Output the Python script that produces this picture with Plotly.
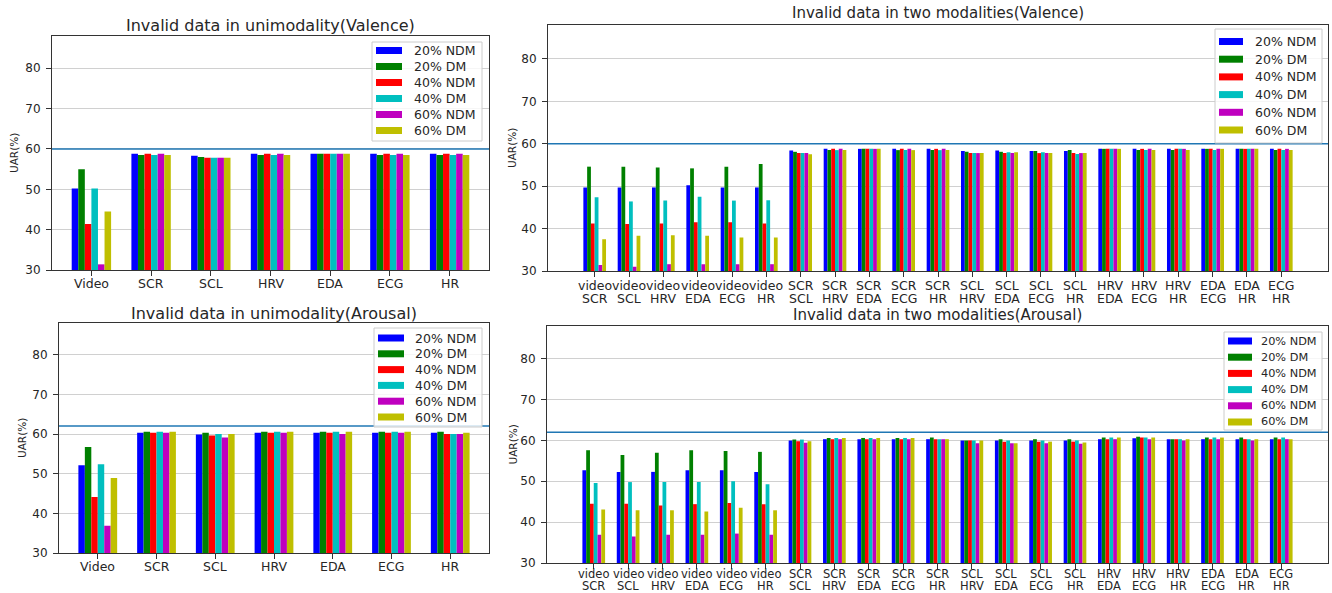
import plotly.graph_objects as go

# ---------------- data ----------------
series_names = ["20% NDM", "20% DM", "40% NDM", "40% DM", "60% NDM", "60% DM"]
series_colors = ["#0000ff", "#008000", "#ff0000", "#00bfbf", "#bf00bf", "#bfbf00"]

uni_cats = ["Video", "SCR", "SCL", "HRV", "EDA", "ECG", "HR"]
bi_cats = ["video SCR", "video SCL", "video HRV", "video EDA", "video ECG", "video HR",
           "SCR SCL", "SCR HRV", "SCR EDA", "SCR ECG", "SCR HR",
           "SCL HRV", "SCL EDA", "SCL ECG", "SCL HR",
           "HRV EDA", "HRV ECG", "HRV HR", "EDA ECG", "EDA HR", "ECG HR"]
bi_line1 = ["video", "video", "video", "video", "video", "video",
            "SCR", "SCR", "SCR", "SCR", "SCR", "SCL", "SCL", "SCL", "SCL",
            "HRV", "HRV", "HRV", "EDA", "EDA", "ECG"]
bi_line2 = ["SCR", "SCL", "HRV", "EDA", "ECG", "HR",
            "SCL", "HRV", "EDA", "ECG", "HR", "HRV", "EDA", "ECG", "HR",
            "EDA", "ECG", "HR", "ECG", "HR", "HR"]

# unimodality, Valence
uv_ndm20 = [50.2, 58.8, 58.3, 58.8, 58.8, 58.8, 58.8]
uv_dm20 = [55.0, 58.5, 58.0, 58.5, 58.8, 58.5, 58.5]
uv_ndm40 = [41.4, 58.8, 57.8, 58.8, 58.8, 58.8, 58.8]
uv_dm40 = [50.2, 58.5, 57.8, 58.5, 58.8, 58.5, 58.5]
uv_ndm60 = [31.4, 58.8, 57.8, 58.8, 58.8, 58.8, 58.8]
uv_dm60 = [44.5, 58.5, 57.8, 58.5, 58.8, 58.5, 58.5]

# unimodality, Arousal
ua_ndm20 = [52.1, 60.3, 59.9, 60.3, 60.3, 60.3, 60.3]
ua_dm20 = [56.7, 60.6, 60.3, 60.6, 60.6, 60.6, 60.6]
ua_ndm40 = [44.1, 60.3, 59.6, 60.3, 60.3, 60.3, 60.0]
ua_dm40 = [52.4, 60.6, 60.0, 60.6, 60.6, 60.6, 60.0]
ua_ndm60 = [36.9, 60.3, 59.1, 60.3, 60.0, 60.3, 60.0]
ua_dm60 = [48.9, 60.6, 60.0, 60.6, 60.6, 60.6, 60.3]

# two modalities, Valence
bv_ndm20 = [49.7, 49.7, 49.7, 50.2, 49.7, 49.7, 58.4, 58.8, 58.8, 58.8, 58.8, 58.3, 58.4, 58.3, 58.3, 58.8, 58.8, 58.8, 58.8, 58.8, 58.8]
bv_dm20 = [54.6, 54.6, 54.4, 54.2, 54.6, 55.2, 58.1, 58.5, 58.8, 58.5, 58.5, 58.1, 58.1, 58.3, 58.5, 58.8, 58.5, 58.5, 58.8, 58.8, 58.5]
bv_ndm40 = [41.2, 41.1, 41.2, 41.5, 41.5, 41.2, 57.8, 58.8, 58.8, 58.8, 58.8, 57.8, 57.8, 57.8, 57.8, 58.8, 58.8, 58.8, 58.8, 58.8, 58.8]
bv_dm40 = [47.4, 46.4, 46.6, 47.5, 46.6, 46.7, 57.8, 58.5, 58.8, 58.5, 58.5, 57.8, 58.0, 58.0, 57.6, 58.8, 58.5, 58.8, 58.5, 58.8, 58.5]
bv_ndm60 = [31.4, 31.0, 31.6, 31.6, 31.6, 31.6, 57.8, 58.8, 58.8, 58.8, 58.8, 57.8, 57.8, 57.8, 57.8, 58.8, 58.8, 58.8, 58.8, 58.8, 58.8]
bv_dm60 = [37.5, 38.3, 38.4, 38.3, 37.9, 37.9, 57.5, 58.5, 58.8, 58.5, 58.5, 57.8, 58.0, 57.8, 57.8, 58.8, 58.5, 58.5, 58.8, 58.8, 58.5]

# two modalities, Arousal
ba_ndm20 = [52.7, 52.3, 52.3, 52.7, 52.7, 52.3, 60.0, 60.3, 60.3, 60.3, 60.3, 60.0, 60.0, 60.0, 60.0, 60.3, 60.5, 60.3, 60.3, 60.3, 60.3]
ba_dm20 = [57.6, 56.4, 57.0, 57.6, 57.4, 57.2, 60.2, 60.6, 60.6, 60.6, 60.7, 60.0, 60.3, 60.3, 60.3, 60.7, 60.9, 60.3, 60.7, 60.7, 60.7]
ba_ndm40 = [44.5, 44.5, 44.1, 44.4, 44.7, 44.4, 59.8, 60.3, 60.3, 60.3, 60.3, 60.0, 59.7, 59.7, 59.7, 60.3, 60.7, 60.3, 60.3, 60.3, 60.3]
ba_dm40 = [49.6, 49.8, 49.8, 49.8, 50.0, 49.3, 60.2, 60.6, 60.6, 60.6, 60.3, 60.0, 60.0, 60.0, 60.0, 60.7, 60.7, 60.3, 60.7, 60.3, 60.7]
ba_ndm60 = [36.9, 36.5, 36.9, 36.9, 37.2, 36.9, 59.4, 60.3, 60.3, 60.3, 60.3, 59.3, 59.3, 59.3, 59.2, 60.3, 60.3, 60.0, 60.3, 60.0, 60.3]
ba_dm60 = [43.1, 42.9, 42.9, 42.6, 43.5, 42.9, 59.8, 60.6, 60.6, 60.6, 60.3, 60.0, 59.3, 59.7, 59.5, 60.7, 60.7, 60.3, 60.7, 60.3, 60.3]

valence_ref = 60
arousal_ref = 62
y_ticks = [30, 40, 50, 60, 70, 80]

titles = ["Invalid data in unimodality(Valence)", "Invalid data in two modalities(Valence)",
          "Invalid data in unimodality(Arousal)", "Invalid data in two modalities(Arousal)"]

# ---------------- layout geometry (pixels) ----------------
W, H = 1332, 593
FONT = "DejaVu Sans"
TXT = "#262626"


def fx(px):
    return px / W


def fy(py):
    return (H - py) / H


# plot boxes: (x0, x1, ytop, ybottom)
boxes = [(52, 489, 36, 270), (548, 1328, 25, 271), (59, 489, 323, 553), (547, 1328, 326, 563)]
title_y = [25, 13, 313, 315]
title_size = [16, 15, 16, 15]
ylab_x = [14, 512, 22, 512]
xlab_size = [12.5, 12.5, 12.5, 11.5]
xlab_off1 = [13, 14, 13, 11]
xlab_off2 = [0, 27, 0, 23]
# legend boxes: (x0, x1, ytop, ybottom, first entry y, step, symbol x0, symbol x1, text x, font)
legends = [
    (372, 482, 42, 141, 50.5, 16.0, 376, 402, 412, 12.5),
    (1215, 1322, 29, 143, 41.5, 17.7, 1219, 1243, 1253, 12.5),
    (374, 482, 328, 427, 338, 15.8, 378, 404, 413, 12.5),
    (1224, 1322, 332, 430, 341, 16.2, 1228, 1252, 1259, 11.3),
]

panels = [
    ("uni", [uv_ndm20, uv_dm20, uv_ndm40, uv_dm40, uv_ndm60, uv_dm60], valence_ref),
    ("bi", [bv_ndm20, bv_dm20, bv_ndm40, bv_dm40, bv_ndm60, bv_dm60], valence_ref),
    ("uni", [ua_ndm20, ua_dm20, ua_ndm40, ua_dm40, ua_ndm60, ua_dm60], arousal_ref),
    ("bi", [ba_ndm20, ba_dm20, ba_ndm40, ba_dm40, ba_ndm60, ba_dm60], arousal_ref),
]

fig = go.Figure()
layout = dict(
    width=W, height=H,
    margin=dict(l=0, r=0, t=0, b=0, autoexpand=False),
    paper_bgcolor="white", plot_bgcolor="white",
    barmode="group", bargap=0.34, bargroupgap=0.0,
    font=dict(family=FONT, size=12, color=TXT),
    showlegend=False,
)
shapes = []
annotations = []

for i, (kind, vals, ref) in enumerate(panels):
    sfx = "" if i == 0 else str(i + 1)
    xa, ya = "x" + sfx, "y" + sfx
    cats = uni_cats if kind == "uni" else bi_cats
    for name, color, v in zip(series_names, series_colors, vals):
        fig.add_trace(go.Bar(
            x=cats, y=v, name=name, marker=dict(color=color, line=dict(width=0)),
            xaxis=xa, yaxis=ya, showlegend=False,
        ))
    x0, x1, yt, yb = boxes[i]
    n = len(cats)
    pad = 0.66 if kind == "uni" else 1.36
    layout["xaxis" + sfx] = dict(
        domain=[fx(x0), fx(x1)], anchor=ya, type="category",
        categoryorder="array", categoryarray=cats,
        range=[-pad, n - 1 + pad], automargin=False,
        showline=True, mirror=True, linecolor="#333", linewidth=1,
        ticks="outside", ticklen=5, tickcolor="#333", showgrid=False,
        showticklabels=False, fixedrange=True,
    )
    layout["yaxis" + sfx] = dict(
        domain=[fy(yb), fy(yt)], anchor=xa, range=[30, 88], automargin=False,
        tickmode="array", tickvals=y_ticks,
        showline=True, mirror=True, linecolor="#333", linewidth=1,
        ticks="outside", ticklen=5, tickcolor="#333", ticklabelstandoff=3,
        showgrid=True, gridcolor="#d0d0d0", gridwidth=1, zeroline=False,
        tickfont=dict(family=FONT, size=12, color=TXT), fixedrange=True,
    )
    # category labels placed under the ticks of the category axis
    line1 = uni_cats if kind == "uni" else bi_line1
    for c, t in zip(cats, line1):
        annotations.append(dict(text=t, x=c, xref=xa, y=fy(yb + xlab_off1[i]), yref="paper",
                                showarrow=False, xanchor="center", yanchor="middle",
                                font=dict(family=FONT, size=xlab_size[i], color=TXT)))
    if kind == "bi":
        for c, t in zip(cats, bi_line2):
            annotations.append(dict(text=t, x=c, xref=xa, y=fy(yb + xlab_off2[i]), yref="paper",
                                    showarrow=False, xanchor="center", yanchor="middle",
                                    font=dict(family=FONT, size=xlab_size[i], color=TXT)))
    # reference line
    shapes.append(dict(type="line", xref=xa + " domain", yref=ya, x0=0, x1=1, y0=ref, y1=ref,
                       line=dict(color="#1f77b4", width=1.5), layer="above"))
    # title and y label
    annotations.append(dict(text=titles[i], x=fx((x0 + x1) / 2), y=fy(title_y[i]), xref="paper",
                            yref="paper", showarrow=False, xanchor="center", yanchor="middle",
                            font=dict(family=FONT, size=title_size[i], color=TXT)))
    annotations.append(dict(text="UAR(%)", x=fx(ylab_x[i]), y=fy((yt + yb) / 2), xref="paper",
                            yref="paper", showarrow=False, textangle=-90, xanchor="center",
                            yanchor="middle", font=dict(family=FONT, size=10.5, color=TXT)))
    # legend (matplotlib-style box with wide colour patches)
    lx0, lx1, lyt, lyb, ey0, step, sx0, sx1, tx, lfs = legends[i]
    shapes.append(dict(type="rect", xref="paper", yref="paper", x0=fx(lx0), x1=fx(lx1),
                       y0=fy(lyb), y1=fy(lyt), fillcolor="rgba(255,255,255,0.8)",
                       line=dict(color="#cccccc", width=1), layer="above"))
    for k, (name, color) in enumerate(zip(series_names, series_colors)):
        cy = ey0 + k * step
        shapes.append(dict(type="rect", xref="paper", yref="paper", x0=fx(sx0), x1=fx(sx1),
                           y0=fy(cy + 3.5), y1=fy(cy - 3.5), fillcolor=color,
                           line=dict(width=0), layer="above"))
        annotations.append(dict(text=name, x=fx(tx), y=fy(cy), xref="paper", yref="paper",
                                showarrow=False, xanchor="left", yanchor="middle",
                                font=dict(family=FONT, size=lfs, color=TXT)))

layout["shapes"] = shapes
layout["annotations"] = annotations
fig.update_layout(**layout)
fig.write_html(
    "out.html",
    config={"displayModeBar": False},
    post_script="document.body.style.margin='0';document.body.style.overflow='hidden';",
)
